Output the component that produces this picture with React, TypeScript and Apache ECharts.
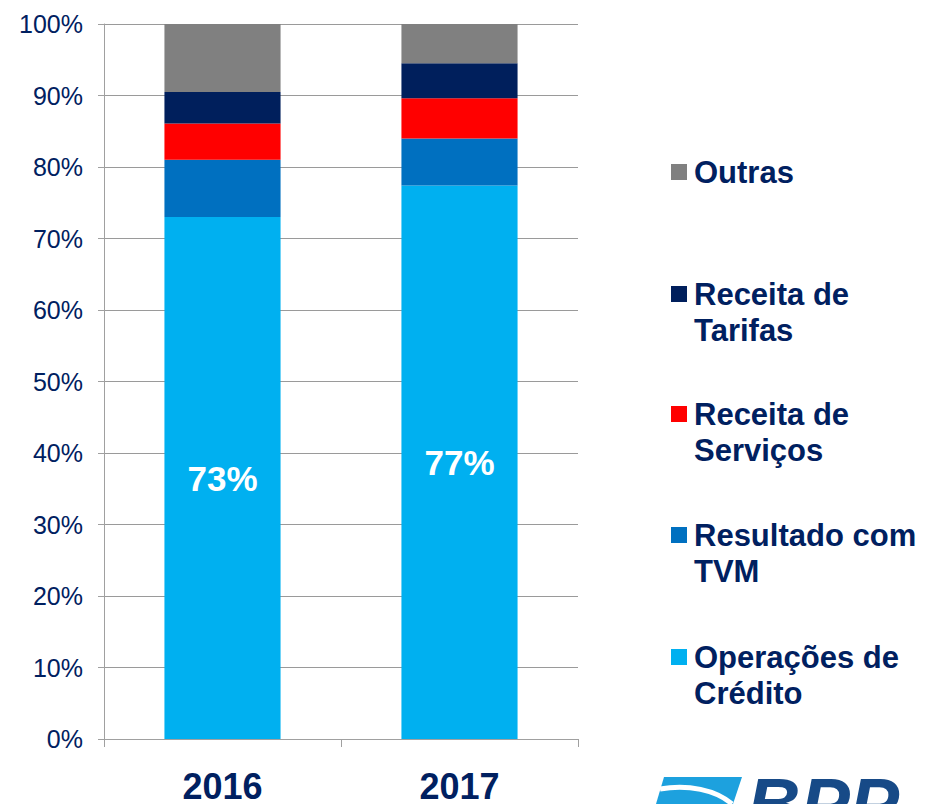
import React, { useEffect, useRef } from "react";
import * as echarts from "echarts";

const categories = ["2016", "2017"];
const seriesNames = ["Operações de Crédito", "Resultado com TVM", "Receita de Serviços", "Receita de Tarifas", "Outras"];
const legendLines = [["Operações de", "Crédito"], ["Resultado com", "TVM"], ["Receita de", "Serviços"], ["Receita de", "Tarifas"], ["Outras"]];
const operacoes = [73.0, 77.4];
const tvm = [8.0, 6.6];
const servicos = [5.1, 5.6];
const tarifas = [4.4, 4.9];
const outras = [9.5, 5.5];
const barLabels = ["73%", "77%"];
const colors = ["#00B0F0", "#0070C0", "#FF0000", "#001F5C", "#808080"];

const NAVY = "#002060";

export default function App() {
  const ref = useRef<HTMLDivElement>(null);
  useEffect(() => {
    if (!ref.current) return;
    const chart = echarts.init(ref.current, undefined, { renderer: "svg" });
    const values = [operacoes, tvm, servicos, tarifas, outras];
    const series = seriesNames.map((name, i) => ({
      name,
      type: "bar",
      stack: "total",
      barWidth: "49%",
      data: values[i],
      itemStyle: { color: colors[i] },
      label:
        i === 0
          ? {
              show: true,
              position: "inside",
              formatter: (p: any) => barLabels[p.dataIndex],
              color: "#FFFFFF",
              fontSize: 35,
              fontWeight: "bold",
              fontFamily: "Liberation Sans, Arial, sans-serif",
            }
          : { show: false },
    }));

    const legendTops = [172, 294, 414, 535, 657];
    const legendGraphics: any[] = [];
    const order = [4, 3, 2, 1, 0];
    order.forEach((si, k) => {
      const cy = legendTops[k];
      legendGraphics.push({
        type: "rect",
        shape: { x: 671, y: cy - 8, width: 16, height: 16 },
        style: { fill: colors[si] },
      });
      legendGraphics.push({
        type: "text",
        x: 694,
        y: cy - 18,
        style: {
          text: legendLines[si].join("\n"),
          fill: NAVY,
          font: "bold 31px 'Liberation Sans', Arial, sans-serif",
          lineHeight: 36,
          textVerticalAlign: "top",
        },
      });
    });

    legendGraphics.push({
      type: "polygon",
      shape: { points: [[664, 777], [742, 777], [733, 804], [656, 804]] },
      style: { fill: "#1DA1DE" },
    });
    legendGraphics.push({
      type: "bezierCurve",
      shape: { x1: 660, y1: 789, x2: 732, y2: 804, cpx1: 688, cpy1: 784, cpx2: 716, cpy2: 790 },
      style: { stroke: "#FFFFFF", lineWidth: 5, fill: "none" },
    });
    legendGraphics.push({
      type: "text",
      x: 747,
      y: 767,
      style: {
        text: "BPP",
        fill: "#174A87",
        font: "italic bold 74px 'Liberation Sans', Arial, sans-serif",
        textVerticalAlign: "top",
      },
    });

    chart.setOption({
      animation: false,
      grid: { left: 104, right: 350, top: 24, bottom: 59, containLabel: false },
      xAxis: {
        type: "category",
        data: categories,
        axisLine: { lineStyle: { color: "#A0A0A0", width: 1 } },
        axisTick: { show: true, length: 8, lineStyle: { color: "#A0A0A0" } },
        axisLabel: {
          color: NAVY,
          fontSize: 36,
          fontWeight: "bold",
          fontFamily: "Liberation Sans, Arial, sans-serif",
          margin: 29,
        },
      },
      yAxis: {
        type: "value",
        min: 0,
        max: 100,
        interval: 10,
        axisLine: { show: true, lineStyle: { color: "#A0A0A0" } },
        axisTick: { show: true, length: 6, lineStyle: { color: "#A0A0A0" } },
        splitLine: { show: true, lineStyle: { color: "#9A9A9A", width: 1 } },
        axisLabel: {
          formatter: "{value}%",
          color: NAVY,
          fontSize: 25,
          fontFamily: "Liberation Sans, Arial, sans-serif",
          margin: 21,
        },
      },
      series,
      graphic: legendGraphics,
    });
    return () => chart.dispose();
  }, []);
  return (
    <div
      ref={ref}
      style={{ position: "fixed", left: 0, top: 0, width: 928, height: 804, background: "#FFFFFF" }}
    />
  );
}
